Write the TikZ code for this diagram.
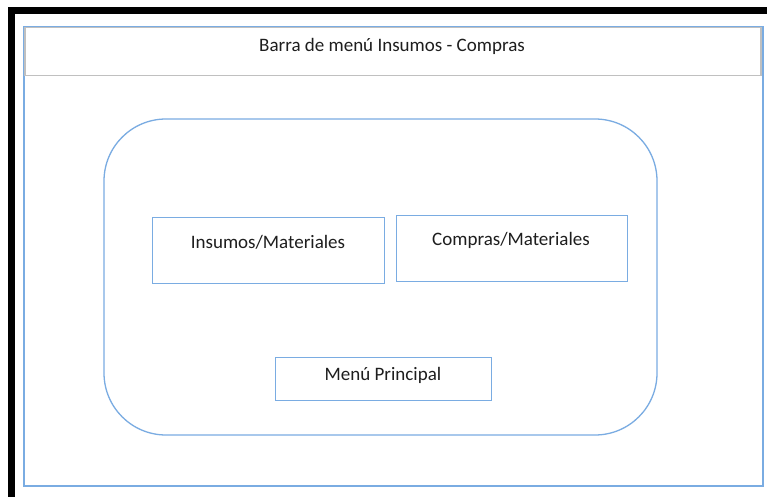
\documentclass[tikz,border=0pt]{standalone}
\usepackage{fontspec}
\setmainfont{Carlito}
\definecolor{lblue}{RGB}{122,172,226}
\definecolor{lgray}{RGB}{192,192,192}
\definecolor{txt}{RGB}{30,30,30}
\begin{document}
\begin{tikzpicture}[x=1pt,y=-1pt,
  box/.style={draw=lblue,line width=1.3pt,rectangle,inner sep=0pt},
  lbl/.style={text=txt,font=\fontsize{19}{22}\selectfont,inner sep=0pt,anchor=center}]
\useasboundingbox (0,0) rectangle (767,497);
\clip (0,0) rectangle (767,497);
\fill[white] (0,0) rectangle (767,497);
% black frame
\draw[line width=7pt,black] (11.5,10.5) rectangle (780,501);
% outer blue frame
\draw[draw=lblue,line width=1.3pt] (24,27) rectangle (763,486);
% header bar
\node[draw=lgray,line width=1.5pt,fill=white,minimum width=736pt,minimum height=48pt,inner sep=0pt,anchor=north west] (hdr) at (24,27) {};
\node[lbl] (hdrt) at (392,46) {Barra de menú Insumos - Compras};
% rounded container
\draw[draw=lblue,line width=1.3pt,rounded corners=62pt] (104,119) rectangle (657,435);
% boxes
\node[box,minimum width=232pt,minimum height=66pt,anchor=north west] (ins) at (152,217) {};
\node[lbl] (inst) at (268,242) {Insumos/Materiales};
\node[box,minimum width=231pt,minimum height=66pt,anchor=north west] (com) at (396,215) {};
\node[lbl] (comt) at (511,240) {Compras/Materiales};
\node[box,minimum width=216pt,minimum height=43pt,anchor=north west] (menu) at (275,357) {};
\node[lbl] (menut) at (383,375) {Menú Principal};
\end{tikzpicture}
\end{document}
